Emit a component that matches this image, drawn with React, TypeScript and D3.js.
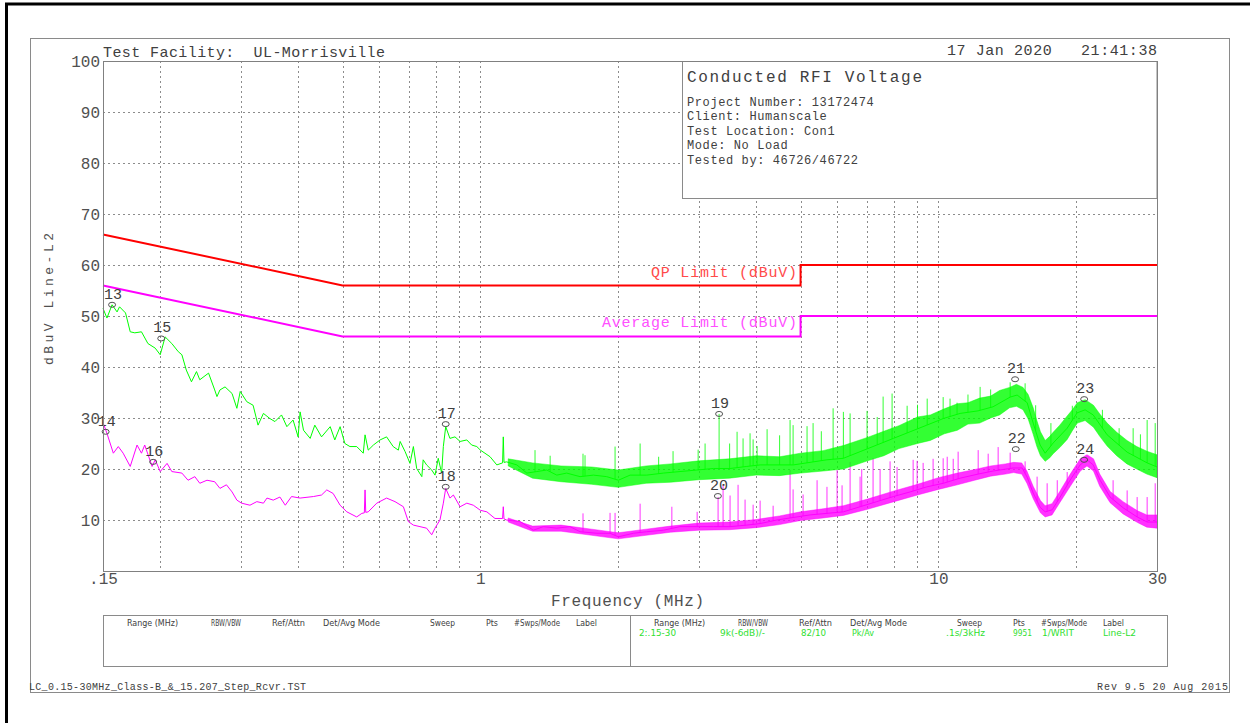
import React, { useEffect, useRef } from "react";
import * as d3 from "d3";

const MONO = "'Liberation Mono', 'DejaVu Sans Mono', monospace";
const NARROW = "'Liberation Sans Narrow', 'DejaVu Sans Condensed', 'Liberation Sans', sans-serif";

// limit lines, MHz / dBuV
const limitFreq = [0.15, 0.5, 5, 5, 30];
const qpLimit = [66, 56, 56, 60, 60];
const avgLimit = [56, 46, 46, 50, 50];

// axes
const yTicks = [10, 20, 30, 40, 50, 60, 70, 80, 90, 100];
const xTicks = [0.15, 1, 10, 30];
const xTickLabels = [".15", "1", "10", "30"];
const xGrid = [0.2, 0.3, 0.4, 0.5, 0.6, 0.7, 0.8, 0.9, 1, 2, 3, 4, 5, 6, 7, 8, 9, 10, 20];

// peak trace (green), [MHz, dBuV]
const peakTrace: [number, number][] = [
  [0.15, 51.5], [0.153, 49.6], [0.157, 52.2], [0.161, 50.8], [0.163, 51.8], [0.168, 50.6],
  [0.172, 46.9], [0.176, 46.7], [0.182, 46.9], [0.188, 44.6], [0.195, 43.7], [0.2, 42.4],
  [0.205, 45.9], [0.212, 44.6], [0.219, 43.0], [0.223, 42.4], [0.228, 39.4], [0.234, 37.1],
  [0.24, 39.1], [0.244, 37.5], [0.255, 38.8], [0.263, 35.5], [0.266, 34.2], [0.27, 35.5],
  [0.277, 36.1], [0.287, 34.8], [0.294, 31.9], [0.299, 35.2], [0.309, 33.2], [0.319, 32.5],
  [0.327, 28.6], [0.336, 30.9], [0.347, 29.9], [0.356, 29.3], [0.368, 30.6], [0.378, 28.3],
  [0.39, 29.6], [0.4, 26.3], [0.404, 31.2], [0.411, 27.6], [0.425, 26.0], [0.435, 28.6],
  [0.45, 26.3], [0.47, 28.3], [0.481, 25.7], [0.494, 28.3], [0.506, 25.0], [0.519, 24.4],
  [0.537, 24.4], [0.555, 23.1], [0.56, 26.7], [0.569, 23.7], [0.584, 24.7], [0.604, 25.7],
  [0.624, 26.3], [0.645, 24.4], [0.662, 23.7], [0.668, 25.4], [0.685, 23.4], [0.702, 21.1],
  [0.714, 24.4], [0.726, 20.1], [0.745, 18.5], [0.75, 21.8], [0.763, 20.8], [0.783, 19.8],
  [0.796, 18.8], [0.809, 22.1], [0.823, 19.2], [0.83, 24.4], [0.84, 28.3], [0.858, 26.0],
  [0.88, 26.3], [0.903, 25.4], [0.934, 25.7], [0.957, 24.7], [0.982, 24.4], [1.0, 23.7],
  [1.05, 22.4], [1.086, 20.8], [1.118, 21.2], [1.122, 26.3], [1.126, 21.3], [1.141, 21.4],
  [1.201, 20.8], [1.263, 19.2], [1.328, 19.5], [1.396, 19.8], [1.468, 18.8], [1.543, 19.2],
  [1.65, 18.5], [1.765, 18.8], [1.887, 18.5], [2.001, 17.8], [2.122, 18.8], [2.307, 18.8],
  [2.509, 19.2], [2.728, 19.5], [2.968, 19.8], [3.225, 20.1], [3.508, 20.1], [3.815, 20.5],
  [4.08, 20.8], [4.82, 20.8], [5.705, 21.8], [6.201, 22.1], [6.744, 23.4], [7.335, 24.7],
  [7.973, 26.0], [8.672, 27.3], [9.433, 28.6], [10.25, 29.9], [11.15, 30.9], [12.2, 31.4],
  [13.16, 32.2], [14.34, 34.1], [14.85, 34.5], [15.62, 33.0], [16.1, 29.0], [16.67, 24.7],
  [17.1, 23.1], [17.8, 25.1], [19.1, 28.0], [20.07, 31.0], [20.9, 31.6], [21.77, 30.6],
  [23.35, 26.7], [25.82, 23.3], [28.55, 21.2], [30, 20.4],
];

// noise band of the peak trace, [MHz, low, high]
const peakBand: [number, number, number][] = [
  [1.15, 20.6, 22.0], [1.3, 18.2, 21.2], [1.5, 17.5, 20.6], [1.75, 17.0, 20.4], [2.0, 16.4, 19.8],
  [2.3, 17.2, 20.6], [2.6, 17.4, 21.0], [3.0, 17.9, 21.6], [3.5, 18.2, 22.0], [4.0, 18.8, 22.6],
  [4.5, 18.7, 22.4], [5.0, 19.2, 23.1], [5.6, 19.6, 23.6], [6.2, 20.0, 24.6], [7.0, 21.6, 26.2],
  [7.6, 22.6, 27.4], [8.2, 24.0, 28.5], [9.0, 25.0, 30.2], [9.6, 25.6, 30.6], [10.3, 26.9, 31.8],
  [11.0, 27.6, 32.8], [11.6, 28.8, 33.0], [12.3, 29.0, 33.9], [13.0, 30.0, 34.3], [13.6, 30.6, 35.4],
  [14.3, 32.0, 36.0], [14.8, 32.3, 36.6], [15.3, 31.6, 36.0], [15.7, 29.8, 34.6], [16.1, 26.8, 32.0],
  [16.4, 24.4, 29.5], [16.7, 22.6, 27.3], [17.1, 21.5, 25.6], [17.5, 22.2, 26.4], [17.8, 23.0, 27.2],
  [18.4, 24.2, 28.6], [19.1, 25.8, 30.4], [19.6, 27.5, 31.6], [20.1, 29.0, 33.0], [20.9, 29.5, 33.6],
  [21.8, 28.2, 32.5], [22.5, 26.4, 30.8], [23.35, 24.5, 29.0], [24.5, 22.6, 27.2], [25.8, 21.0, 25.6],
  [27.1, 20.0, 24.4], [28.5, 19.0, 23.5], [30, 18.3, 22.8],
];

// narrow spikes on the peak trace, [MHz, top dBuV]
const peakSpikes: [number, number][] = [
  [1.316, 23.7], [1.42, 22.6], [1.675, 23.0], [1.692, 22.7], [1.968, 24.4], [2.232, 25.0],
  [2.45, 22.4], [2.634, 23.5], [2.988, 23.8], [3.094, 25.0], [3.32, 30.8], [3.5, 25.0],
  [3.634, 27.3], [3.745, 26.0], [3.879, 27.0], [3.939, 25.8], [4.019, 24.5], [4.226, 27.8],
  [4.5, 26.6], [4.743, 29.6], [4.816, 28.6], [5.166, 28.4], [5.325, 29.0], [5.55, 27.4],
  [5.889, 31.9], [6.201, 31.2], [6.414, 30.9], [6.985, 31.4], [7.35, 30.2], [7.572, 34.2],
  [7.921, 34.8], [8.543, 32.4], [9.0, 32.6], [9.45, 33.8], [10.24, 34.1], [10.6, 33.8],
  [10.98, 33.0], [11.6, 34.6], [12.33, 36.1], [13.0, 35.6], [14.34, 37.0], [15.46, 36.8],
  [16.3, 32.5], [17.6, 29.0], [19.6, 32.4], [22.8, 31.6], [24.8, 28.0], [26.61, 28.0],
  [27.6, 26.8], [28.55, 29.6], [29.73, 29.0],
];

// average trace (magenta)
const avgTrace: [number, number][] = [
  [0.15, 29.1], [0.153, 27.0], [0.158, 23.1], [0.162, 24.4], [0.166, 23.1], [0.172, 20.5],
  [0.178, 24.7], [0.182, 23.1], [0.185, 24.7], [0.192, 20.5], [0.195, 21.8], [0.2, 19.5],
  [0.207, 21.1], [0.212, 19.5], [0.223, 19.2], [0.23, 17.8], [0.238, 18.5], [0.244, 17.2],
  [0.253, 17.8], [0.263, 17.5], [0.27, 16.2], [0.279, 16.9], [0.287, 15.5], [0.294, 13.9],
  [0.301, 13.3], [0.314, 12.9], [0.325, 13.6], [0.336, 13.3], [0.342, 14.3], [0.353, 13.9],
  [0.365, 14.5], [0.375, 12.9], [0.387, 14.6], [0.404, 14.3], [0.432, 14.6], [0.45, 14.9],
  [0.462, 15.9], [0.477, 15.2], [0.494, 12.9], [0.511, 11.6], [0.537, 10.6], [0.551, 11.3],
  [0.558, 11.4], [0.56, 15.9], [0.562, 11.5], [0.569, 11.6], [0.594, 13.3], [0.624, 14.3],
  [0.651, 13.6], [0.679, 12.6], [0.696, 9.7], [0.714, 9.0], [0.738, 8.7], [0.763, 8.4],
  [0.783, 7.1], [0.796, 8.4], [0.816, 10.0], [0.83, 13.3], [0.84, 16.2], [0.858, 14.3],
  [0.873, 14.9], [0.903, 12.6], [0.934, 13.3], [0.965, 12.9], [1.0, 11.9], [1.033, 11.6],
  [1.076, 10.3], [1.118, 10.3], [1.122, 12.6], [1.126, 10.2], [1.141, 10.0], [1.221, 9.7],
  [1.305, 8.0], [1.372, 8.7], [1.468, 8.4], [1.569, 8.7], [1.65, 7.7], [1.796, 7.4],
  [1.919, 7.4], [2.001, 6.7], [2.157, 7.4], [2.307, 7.7], [2.509, 8.0], [2.728, 8.7],
  [2.968, 8.7], [3.225, 8.7], [3.508, 8.7], [3.815, 9.0], [4.08, 9.3], [4.437, 10.0],
  [5.245, 11.0], [6.201, 11.6], [6.744, 12.6], [7.335, 13.6], [7.973, 14.6], [8.672, 15.5],
  [9.433, 16.5], [10.25, 17.2], [11.15, 18.2], [12.2, 19.0], [13.16, 19.6], [14.55, 20.2],
  [15.23, 20.2], [15.62, 18.4], [16.1, 15.3], [16.67, 12.5], [17.1, 11.6], [17.71, 12.0],
  [18.44, 14.5], [19.38, 17.8], [20.38, 20.8], [21.11, 21.8], [21.77, 20.8], [22.54, 17.8],
  [23.7, 14.5], [25.3, 12.4], [27.15, 10.6], [28.55, 9.6], [30, 9.6],
];

const avgBand: [number, number, number][] = [
  [1.15, 9.6, 10.4], [1.3, 7.8, 8.8], [1.5, 7.8, 9.0], [1.75, 7.0, 8.2], [2.0, 6.3, 7.5],
  [2.3, 7.0, 8.2], [2.6, 7.6, 8.8], [3.0, 8.0, 9.4], [3.5, 8.1, 9.6], [4.0, 8.5, 10.1],
  [4.5, 9.1, 10.8], [5.0, 9.9, 11.6], [5.6, 10.4, 12.2], [6.2, 10.9, 12.8], [7.0, 12.1, 14.1],
  [8.0, 13.6, 15.7], [9.0, 14.9, 17.0], [10.0, 16.0, 18.3], [11.0, 16.9, 19.2], [12.0, 17.8, 19.9],
  [13.0, 18.6, 20.6], [14.0, 19.0, 21.0], [14.6, 19.3, 21.3], [15.2, 19.0, 21.2], [15.6, 17.2, 19.6],
  [16.1, 14.2, 16.6], [16.7, 11.4, 13.8], [17.1, 10.6, 12.8], [17.7, 11.0, 13.2], [18.4, 13.4, 15.6],
  [19.4, 16.6, 19.0], [20.4, 19.6, 22.0], [21.1, 20.6, 22.8], [21.8, 19.6, 22.0], [22.5, 16.6, 19.0],
  [23.7, 13.4, 15.6], [25.3, 11.2, 13.6], [27.2, 9.5, 11.8], [28.5, 8.6, 11.0], [30, 8.4, 11.0],
];

const avgSpikes: [number, number][] = [
  [1.675, 11.3], [1.919, 11.4], [1.968, 11.4], [2.232, 13.2], [2.618, 12.6], [2.973, 11.6],
  [3.303, 14.5], [3.387, 16.9], [3.508, 14.8], [3.652, 16.9], [3.783, 14.0], [3.939, 13.0],
  [4.08, 13.8], [4.356, 12.8], [4.743, 19.8], [4.816, 16.0], [5.064, 15.0], [5.433, 17.8],
  [5.71, 16.5], [6.008, 19.8], [6.16, 16.8], [6.414, 21.4], [6.744, 18.5], [6.8, 20.0],
  [7.199, 22.1], [7.458, 20.0], [7.842, 21.5], [8.122, 20.4], [8.805, 21.8], [8.984, 21.6],
  [9.259, 21.2], [9.735, 22.0], [10.24, 22.1], [10.45, 22.4], [10.77, 22.0], [11.04, 23.4],
  [12.21, 23.7], [12.84, 23.0], [13.5, 24.3], [14.34, 23.2], [15.46, 21.5], [16.42, 18.5],
  [17.27, 17.2], [18.17, 17.8], [19.1, 19.4], [24.06, 17.8], [25.82, 15.8], [27.15, 14.5],
  [28.55, 14.5], [29.73, 17.2],
];

// marker label, MHz, dBuV
const markers: [string, number, number][] = [
  ["13", 0.157, 52.2], ["14", 0.152, 27.3], ["15", 0.201, 45.6], ["16", 0.193, 21.4],
  ["17", 0.84, 28.8], ["18", 0.84, 16.5], ["19", 3.32, 30.8], ["20", 3.30, 14.7],
  ["21", 14.7, 37.6], ["22", 14.75, 23.9], ["23", 20.8, 33.7], ["24", 20.8, 21.8],
];

const infoLines = [
  "Project Number: 13172474",
  "Client: Humanscale",
  "Test Location: Con1",
  "Mode: No Load",
  "Tested by: 46726/46722",
];

const tableHeaders = ["Range (MHz)", "RBW/VBW", "Ref/Attn", "Det/Avg Mode", "Sweep", "Pts", "#Swps/Mode", "Label"];
const tableRow = ["2:.15-30", "9k(-6dB)/-", "82/10", "Pk/Av", ".1s/3kHz", "9951", "1/WRIT", "Line-L2"];
const headerX = [654, 738, 799, 850, 957, 1013, 1041, 1103];
const headerW = [51, 30, 33, 57, 25, 12, 46, 21];
const rowX = [639, 720, 801, 852, 946, 1013, 1042, 1103];
const rowW = [37, 45, 25, 22, 39, 19, 32, 33];

const App = () => {
  const svgRef = useRef<SVGSVGElement>(null);

  useEffect(() => {
    const svg = d3.select(svgRef.current);
    svg.selectAll("*").remove();

    const left = 103, right = 1157, top = 61, bottom = 571;
    const x = d3.scaleLog().domain([0.15, 30]).range([left, right]);
    const y = d3.scaleLinear().domain([0, 100]).range([bottom, top]);

    // page and frame
    svg.append("rect").attr("x", 6.5).attr("y", 4).attr("width", 1300).attr("height", 800)
      .attr("fill", "#fff").attr("stroke", "#000").attr("stroke-width", 3);
    svg.append("rect").attr("x", 30.5).attr("y", 38.5).attr("width", 1199).attr("height", 654)
      .attr("fill", "none").attr("stroke", "#8a8a8a");

    // grid
    const grid = svg.append("g").attr("stroke", "#8c8c8c").attr("stroke-dasharray", "2,3");
    grid.selectAll("line.v").data(xGrid).join("line").attr("class", "v")
      .attr("x1", (d) => Math.round(x(d)) + 0.5).attr("x2", (d) => Math.round(x(d)) + 0.5)
      .attr("y1", top).attr("y2", bottom);
    grid.selectAll("line.h").data(yTicks.slice(0, -1)).join("line").attr("class", "h")
      .attr("x1", left).attr("x2", right)
      .attr("y1", (d) => Math.round(y(d)) + 0.5).attr("y2", (d) => Math.round(y(d)) + 0.5);

    // title box
    svg.append("rect").attr("x", 682.5).attr("y", 61.5).attr("width", 474.5).attr("height", 137)
      .attr("fill", "#fff").attr("stroke", "#8a8a8a");
    svg.append("text").attr("x", 687).attr("y", 82).attr("font-family", MONO).attr("font-size", 16)
      .attr("textLength", 235).attr("fill", "#404040").text("Conducted RFI Voltage");
    svg.selectAll("text.info").data(infoLines).join("text").attr("class", "info")
      .attr("x", 687).attr("y", (_, i) => 106 + i * 14.4)
      .attr("font-family", MONO).attr("font-size", 12).attr("letter-spacing", 0.6)
      .attr("fill", "#404040").text((d) => d);

    const levelAt = (trace: [number, number][], f: number) => {
      const i = Math.min(Math.max(d3.bisector((d: [number, number]) => d[0]).left(trace, f), 1), trace.length - 1);
      const a = trace[i - 1], b = trace[i];
      const t = (Math.log(f) - Math.log(a[0])) / (Math.log(b[0]) - Math.log(a[0]));
      return a[1] + (b[1] - a[1]) * t;
    };

    const line = d3.line<[number, number]>().x((d) => x(d[0])).y((d) => y(d[1]));
    const band = d3.area<[number, number, number]>().x((d) => x(d[0])).y0((d) => y(d[1])).y1((d) => y(d[2]));

    const drawTrace = (trace, bandData, spikes, color, bandOpacity) => {
      const g = svg.append("g");
      g.append("path").attr("d", band(bandData)).attr("fill", color).attr("fill-opacity", bandOpacity)
        .attr("stroke", color).attr("stroke-opacity", 0.45).attr("stroke-width", 1);
      g.append("path").attr("d", line(trace)).attr("fill", "none").attr("stroke", color).attr("stroke-width", 1);
      g.selectAll("line").data(spikes).join("line")
        .attr("x1", (d) => x(d[0])).attr("x2", (d) => x(d[0]))
        .attr("y1", (d) => y(levelAt(trace, d[0]))).attr("y2", (d) => y(d[1]))
        .attr("stroke", color).attr("stroke-opacity", 0.8).attr("stroke-width", 1);
    };
    drawTrace(avgTrace, avgBand, avgSpikes, "#ff00ff", 0.8);
    drawTrace(peakTrace, peakBand, peakSpikes, "#00ff00", 0.8);

    // limits
    const limitLine = d3.line<number>().x((_, i) => x(limitFreq[i])).y((d) => y(d));
    svg.append("path").attr("d", limitLine(qpLimit)).attr("fill", "none").attr("stroke", "#ff0000").attr("stroke-width", 2);
    svg.append("path").attr("d", limitLine(avgLimit)).attr("fill", "none").attr("stroke", "#ff00ff").attr("stroke-width", 2);
    svg.append("text").attr("x", 651).attr("y", 277).attr("font-family", MONO).attr("font-size", 15)
      .attr("textLength", 146).attr("fill", "#ff4a4a").text("QP Limit (dBuV)");
    svg.append("text").attr("x", 602).attr("y", 327).attr("font-family", MONO).attr("font-size", 15)
      .attr("textLength", 195).attr("fill", "#ff50ff").text("Average Limit (dBuV)");

    // markers
    const mk = svg.append("g");
    mk.selectAll("ellipse").data(markers).join("ellipse")
      .attr("cx", (d) => x(d[1])).attr("cy", (d) => y(d[2])).attr("rx", 3.5).attr("ry", 2.5)
      .attr("fill", "none").attr("stroke", "#505050");
    mk.selectAll("text").data(markers).join("text")
      .attr("x", (d) => x(d[1]) + 1).attr("y", (d) => y(d[2]) - 6)
      .attr("text-anchor", "middle").attr("font-family", MONO).attr("font-size", 15)
      .attr("fill", "#404040").text((d) => d[0]);

    // plot border
    svg.append("rect").attr("x", left + 0.5).attr("y", top + 0.5).attr("width", right - left).attr("height", bottom - top)
      .attr("fill", "none").attr("stroke", "#808080");

    // axes
    svg.append("g").attr("transform", `translate(${left},0)`)
      .call(d3.axisLeft(y).tickValues(yTicks).tickSize(0).tickPadding(3).tickFormat(d3.format("d")))
      .call((g) => g.select(".domain").remove())
      .selectAll("text").attr("font-family", MONO).attr("font-size", 16).attr("fill", "#505050");
    svg.append("g").attr("transform", `translate(0,${bottom})`)
      .call(d3.axisBottom(x).tickValues(xTicks).tickSize(0).tickPadding(2).tickFormat((_, i) => xTickLabels[i]))
      .call((g) => g.select(".domain").remove())
      .selectAll("text").attr("font-family", MONO).attr("font-size", 16).attr("fill", "#505050");

    svg.append("text").attr("x", 551).attr("y", 606).attr("font-family", MONO).attr("font-size", 16)
      .attr("textLength", 153).attr("fill", "#505050").text("Frequency (MHz)");
    svg.append("text").attr("transform", "translate(53,299) rotate(-90)").attr("text-anchor", "middle")
      .attr("font-family", MONO).attr("font-size", 13).attr("textLength", 132)
      .attr("fill", "#505050").text("dBuV Line-L2");

    // header
    svg.append("text").attr("x", 103).attr("y", 57).attr("font-family", MONO).attr("font-size", 15)
      .attr("textLength", 282).style("white-space", "pre").attr("fill", "#404040")
      .text("Test Facility:  UL-Morrisville");
    svg.append("text").attr("x", 947).attr("y", 55).attr("font-family", MONO).attr("font-size", 15)
      .attr("textLength", 210).style("white-space", "pre").attr("fill", "#404040")
      .text("17 Jan 2020   21:41:38");

    // settings table
    svg.append("rect").attr("x", 103.5).attr("y", 615.5).attr("width", 1064).attr("height", 51)
      .attr("fill", "none").attr("stroke", "#8a8a8a");
    svg.append("line").attr("x1", 630.5).attr("x2", 630.5).attr("y1", 615.5).attr("y2", 666.5).attr("stroke", "#8a8a8a");
    [0, -527].forEach((off) => {
      svg.append("g").selectAll("text").data(tableHeaders).join("text")
        .attr("x", (_, i) => headerX[i] + off).attr("y", 626)
        .attr("textLength", (_, i) => headerW[i]).attr("lengthAdjust", "spacingAndGlyphs")
        .attr("font-family", NARROW).attr("font-size", 8.5).attr("fill", "#404040").text((d) => d);
    });
    svg.append("g").selectAll("text").data(tableRow).join("text")
      .attr("x", (_, i) => rowX[i]).attr("y", 636)
      .attr("textLength", (_, i) => rowW[i]).attr("lengthAdjust", "spacingAndGlyphs")
      .attr("font-family", NARROW).attr("font-size", 8.5).attr("fill", "#2fe02f").text((d) => d);

    // footer
    svg.append("text").attr("x", 29).attr("y", 690).attr("font-family", MONO).attr("font-size", 10)
      .attr("textLength", 277).attr("fill", "#404040").text("LC_0.15-30MHz_Class-B_&_15.207_Step_Rcvr.TST");
    svg.append("text").attr("x", 1097).attr("y", 690).attr("font-family", MONO).attr("font-size", 10)
      .attr("textLength", 131).attr("fill", "#404040").text("Rev 9.5 20 Aug 2015");
  }, []);

  return (
    <svg
      ref={svgRef}
      width="1250"
      height="723"
      style={{ position: "absolute", left: 0, top: 0, background: "#fff" }}
    ></svg>
  );
};

export default App;
